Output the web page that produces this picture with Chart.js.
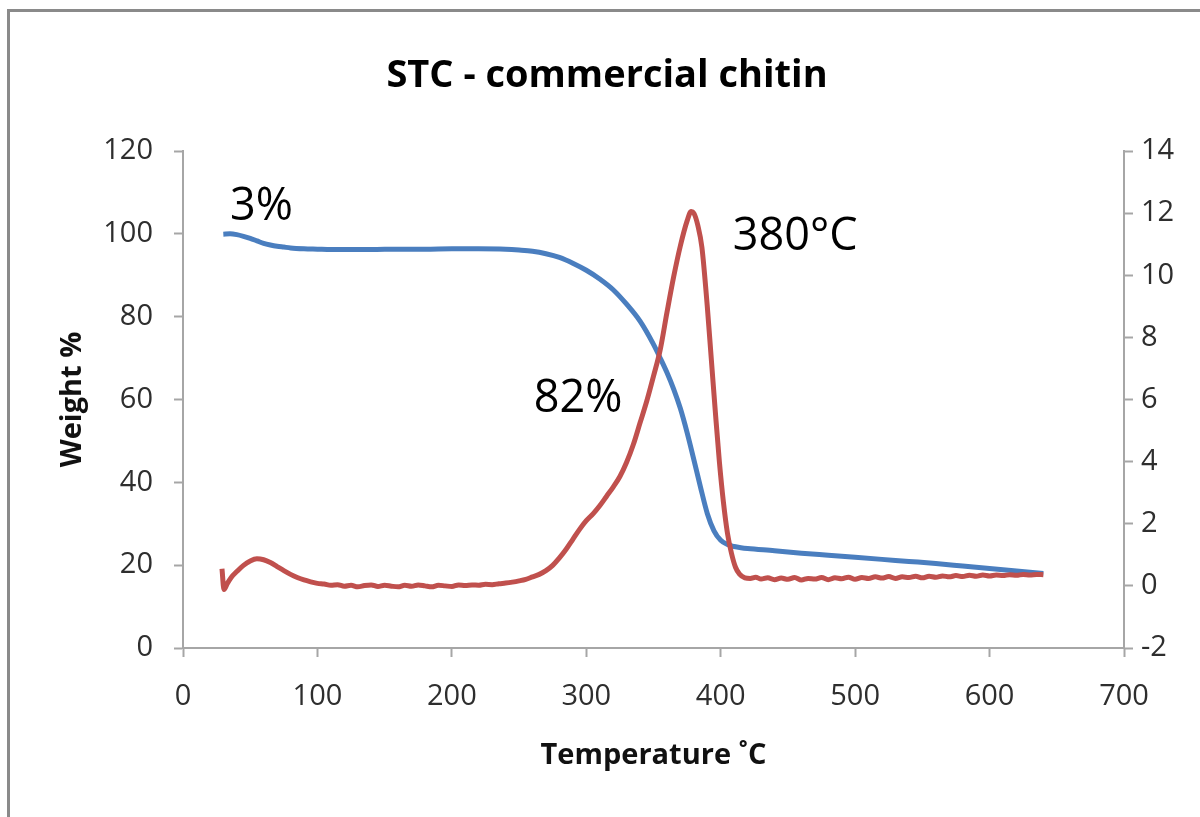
<!DOCTYPE html>
<html>
<head>
<meta charset="utf-8">
<title>STC - commercial chitin</title>
<script src="https://cdn.jsdelivr.net/npm/chart.js@4.4.1/dist/chart.umd.min.js"></script>
<style>
  html, body { margin: 0; padding: 0; background: #fff; }
  #wrap { position: relative; width: 1200px; height: 817px; overflow: hidden; }
  #frame { position: absolute; left: 7px; top: 9px; width: 1220px; height: 840px;
           border-top: 3px solid #8a8a8a; border-left: 3px solid #8a8a8a; pointer-events: none; }
  canvas { display: block; }
</style>
</head>
<body>
<div id="wrap">
  <canvas id="chart" width="1200" height="817"></canvas>
  <div id="frame"></div>
</div>
<script>
// Thermogravimetric curve: temperature (°C) vs remaining weight (%)
const tgaTemp = [30, 35, 40, 45, 50, 55, 60, 65, 70, 75, 80, 90, 100, 110, 120, 140, 160, 180, 200, 220,
  240, 250, 260, 270, 280, 290, 300, 310, 320, 330, 340, 350, 355, 360, 365, 370, 375, 380, 385, 390,
  395, 400, 405, 410, 415, 420, 440, 460, 480, 500, 520, 540, 560, 580, 600, 620, 640];
const tgaWeight = [99.9, 100.0, 99.8, 99.4, 98.9, 98.3, 97.7, 97.3, 97.0, 96.8, 96.6, 96.4, 96.3, 96.2, 96.2, 96.2, 96.3, 96.3, 96.4, 96.4,
  96.3, 96.1, 95.8, 95.2, 94.3, 92.9, 91.2, 89.1, 86.5, 83.0, 78.9, 73.3, 70.0, 66.5, 62.5, 57.8, 52.0, 45.5, 38.8, 32.5,
  28.3, 26.0, 25.0, 24.5, 24.2, 24.0, 23.5, 22.9, 22.4, 21.9, 21.4, 20.9, 20.4, 19.8, 19.2, 18.6, 18.0];

// Derivative weight-loss curve (right axis)
const dtgTemp = [29, 30.5, 33, 36, 40, 45, 50, 55, 60, 65, 70, 75, 80, 85, 90, 95, 100, 105, 110, 115,
  120, 125, 130, 135, 140, 145, 150, 155, 160, 165, 170, 175, 180, 185, 190, 195, 200, 205, 210, 215,
  220, 225, 230, 235, 240, 245, 250, 255, 260, 265, 270, 275, 280, 285, 290, 295, 300, 305, 310, 315,
  320, 325, 330, 335, 340, 345, 350, 355, 360, 365, 370, 375, 378, 380, 383, 386, 390, 393, 396, 399,
  402, 405, 408, 411, 414, 418, 422, 426, 430, 435, 440, 445, 450, 455, 460, 465, 470, 475, 480, 485,
  490, 495, 500, 505, 510, 515, 520, 525, 530, 535, 540, 545, 550, 555, 560, 565, 570, 575, 580, 585,
  590, 595, 600, 605, 610, 615, 620, 625, 630, 635, 640];
const dtgRate = [0.55, -0.12, 0.08, 0.28, 0.46, 0.66, 0.80, 0.87, 0.84, 0.75, 0.62, 0.49, 0.37, 0.27, 0.19, 0.13, 0.08, 0.06, 0.02, 0.04,
  -0.01, 0.02, -0.03, 0.01, 0.03, -0.02, 0.02, -0.01, -0.03, 0.02, -0.01, 0.03, 0.00, -0.03, 0.02, 0.00, -0.02, 0.03, 0.01, 0.03,
  0.02, 0.05, 0.04, 0.07, 0.09, 0.12, 0.16, 0.21, 0.29, 0.37, 0.49, 0.66, 0.90, 1.18, 1.50, 1.82, 2.10, 2.32, 2.58, 2.88,
  3.18, 3.52, 3.98, 4.55, 5.25, 5.95, 6.75, 7.60, 8.80, 9.95, 10.95, 11.75, 12.05, 12.00, 11.60, 10.90, 9.00, 7.30, 5.60, 4.00,
  2.70, 1.70, 1.05, 0.60, 0.38, 0.26, 0.24, 0.28, 0.22, 0.26, 0.20, 0.25, 0.21, 0.27, 0.19, 0.24, 0.22, 0.27, 0.20, 0.26,
  0.23, 0.28, 0.21, 0.27, 0.24, 0.29, 0.25, 0.30, 0.24, 0.29, 0.27, 0.31, 0.26, 0.31, 0.28, 0.32, 0.29, 0.33, 0.30, 0.34,
  0.31, 0.35, 0.32, 0.35, 0.33, 0.36, 0.34, 0.37, 0.35, 0.37, 0.36];

// Axis ranges
const tempRange = [0, 700, 100];
const weightRange = [0, 120, 20];
const rateRange = [-2, 14, 2];

// Text written onto the plot (position in temperature / weight units)
const chartTitle = 'STC - commercial chitin';
const noteText = ['3%', '380°C', '82%'];
const noteTemp = [35, 409, 261];
const noteWeight = [103.3, 96.1, 57];

const FONT = '"Open Sans", "Liberation Sans", sans-serif';
const axisGray = '#a6a6a6';
const tickText = '#2e2e2e';

const textPlugin = {
  id: 'plotText',
  afterDatasetsDraw(chart) {
    const { ctx, scales } = chart;
    ctx.save();
    ctx.fillStyle = '#000';
    ctx.font = 'bold 38px ' + FONT;
    ctx.textAlign = 'center';
    ctx.textBaseline = 'alphabetic';
    ctx.fillText(chartTitle, 607, 87);
    ctx.font = '45px ' + FONT;
    ctx.textAlign = 'left';
    noteText.forEach((t, i) => {
      ctx.fillText(t, scales.x.getPixelForValue(noteTemp[i]), scales.yW.getPixelForValue(noteWeight[i]));
    });
    ctx.restore();
  }
};

const gridOpts = {
  drawOnChartArea: false,
  drawTicks: true,
  tickLength: 9,
  tickColor: axisGray,
  tickWidth: 2
};

new Chart(document.getElementById('chart'), {
  type: 'line',
  data: {
    datasets: [
      {
        label: 'Weight %',
        data: tgaTemp.map((t, i) => ({ x: t, y: tgaWeight[i] })),
        borderColor: '#4a7ebf',
        borderWidth: 5,
        pointRadius: 0,
        cubicInterpolationMode: 'monotone',
        yAxisID: 'yW',
        order: 1
      },
      {
        label: 'DTG',
        data: dtgTemp.map((t, i) => ({ x: t, y: dtgRate[i] })),
        borderColor: '#c0504d',
        borderWidth: 5,
        pointRadius: 0,
        cubicInterpolationMode: 'monotone',
        yAxisID: 'yR',
        order: 0
      }
    ]
  },
  options: {
    responsive: false,
    devicePixelRatio: 1,
    animation: false,
    layout: { padding: { top: 151, left: 0, right: 0, bottom: 0 } },
    plugins: { legend: { display: false }, tooltip: { enabled: false }, title: { display: false } },
    scales: {
      x: {
        type: 'linear',
        position: 'bottom',
        min: tempRange[0], max: tempRange[1],
        ticks: { stepSize: tempRange[2], color: tickText, font: { family: FONT, size: 29 }, padding: 22, maxRotation: 0 },
        grid: gridOpts,
        border: { color: axisGray, width: 2 },
        title: { display: true, text: 'Temperature ˚C', color: '#111', font: { family: FONT, size: 29, weight: 'bold' }, padding: { top: 0, bottom: 44 } },
        afterFit(s) { s.height = 817 - 648; }
      },
      yW: {
        type: 'linear',
        position: 'left',
        min: weightRange[0], max: weightRange[1],
        ticks: { stepSize: weightRange[2], color: tickText, font: { family: FONT, size: 29 }, padding: 21 },
        grid: gridOpts,
        border: { color: axisGray, width: 2 },
        title: { display: true, text: 'Weight %', color: '#111', font: { family: FONT, size: 29, weight: 'bold' }, padding: { top: 55, bottom: 0 } },
        afterFit(s) { s.width = 183; }
      },
      yR: {
        type: 'linear',
        position: 'right',
        min: rateRange[0], max: rateRange[1],
        ticks: { stepSize: rateRange[2], color: tickText, font: { family: FONT, size: 29 }, padding: 8 },
        grid: gridOpts,
        border: { color: axisGray, width: 2 },
        afterFit(s) { s.width = 1200 - 1124; }
      }
    }
  },
  plugins: [textPlugin]
});
</script>
</body>
</html>
